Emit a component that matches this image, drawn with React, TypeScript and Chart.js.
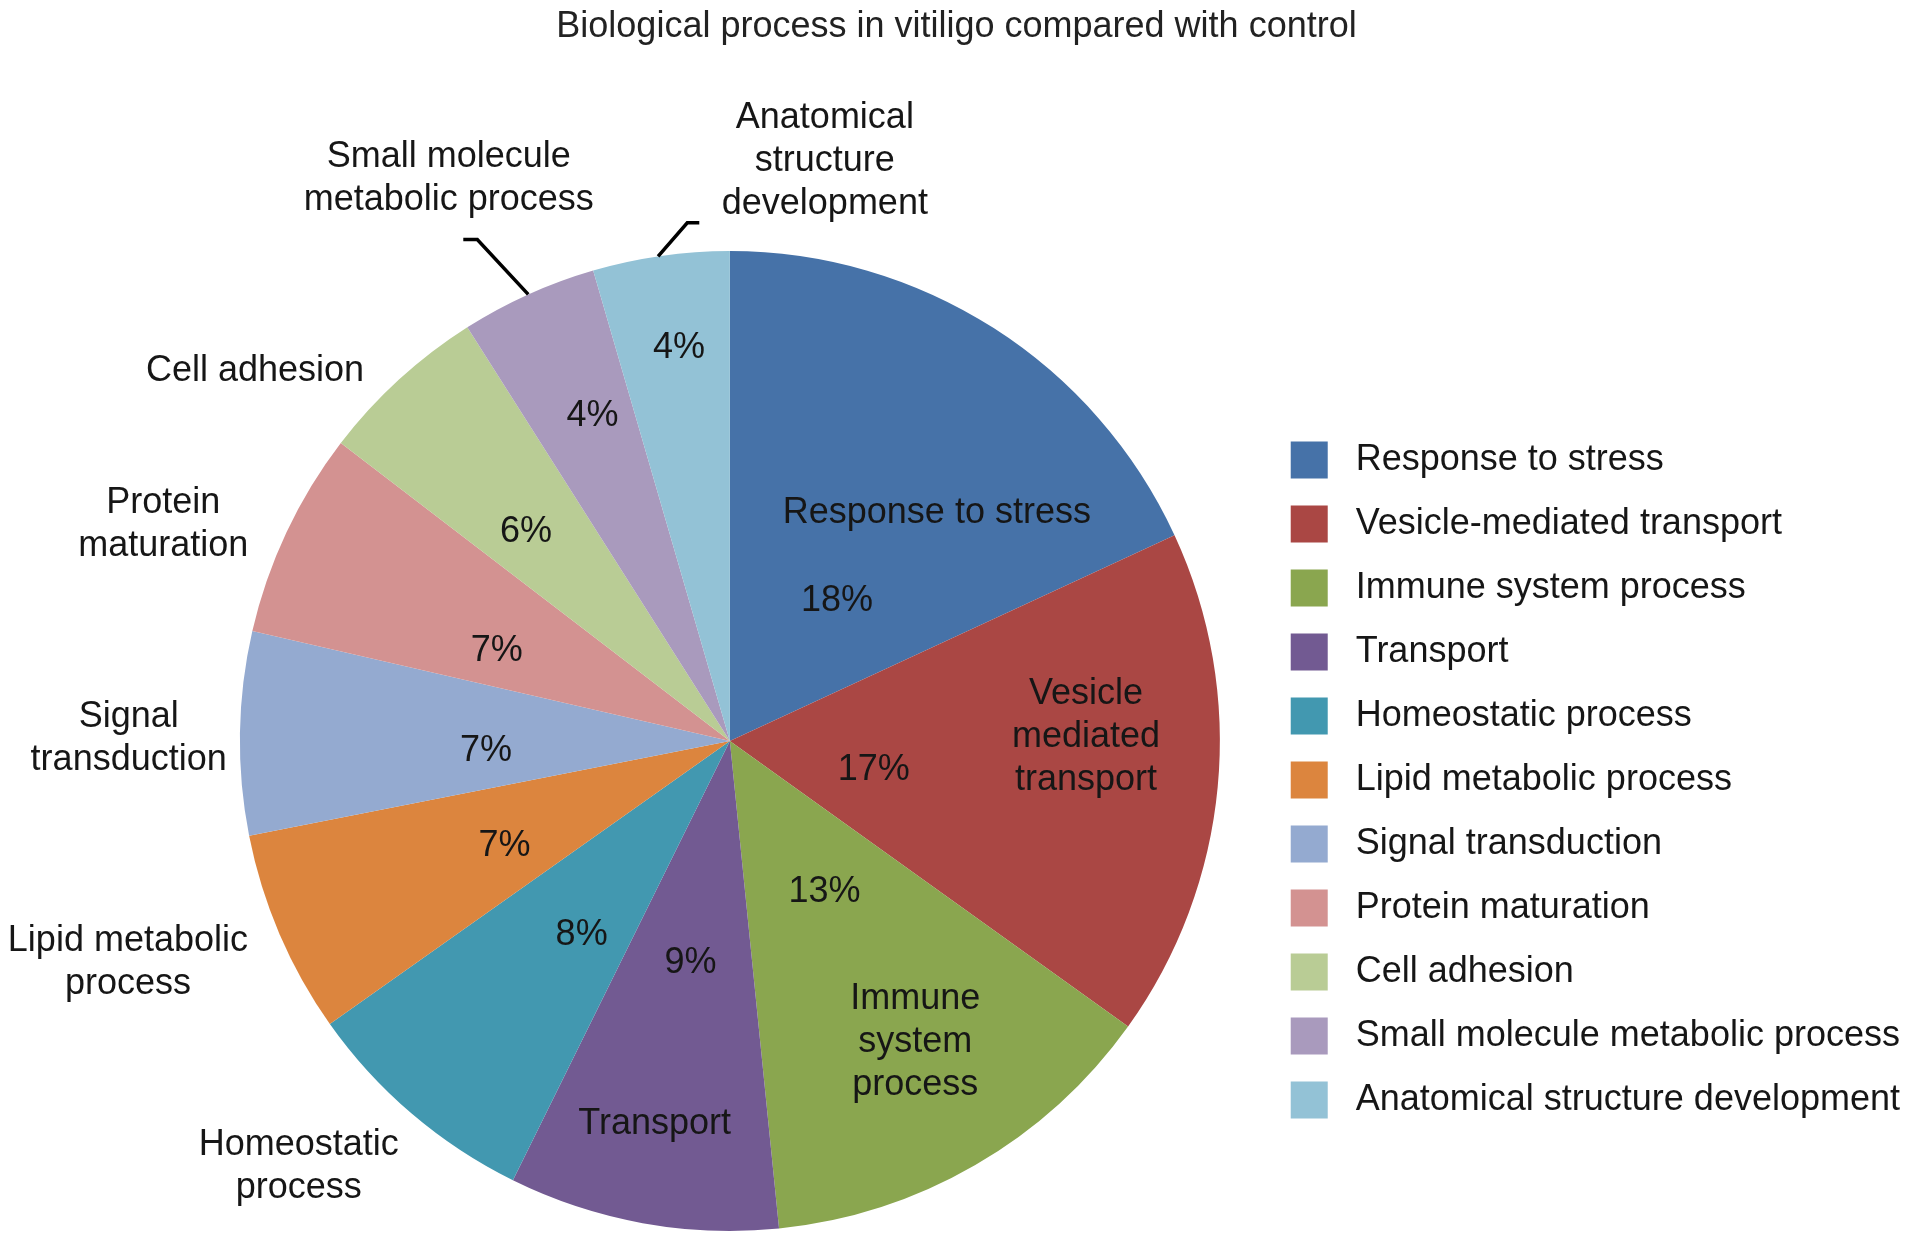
import React, { useEffect, useRef } from 'react';
import { Chart, registerables } from 'chart.js';

Chart.register(...registerables);

// ---- data ----
const categories = [
  'Response to stress',
  'Vesicle-mediated transport',
  'Immune system process',
  'Transport',
  'Homeostatic process',
  'Lipid metabolic process',
  'Signal transduction',
  'Protein maturation',
  'Cell adhesion',
  'Small molecule metabolic process',
  'Anatomical structure development',
];
const values = [18.1, 16.8, 13.5, 8.9, 7.9, 6.7, 6.7, 6.8, 5.6, 4.5, 4.5];
const percentLabels = [18, 17, 13, 9, 8, 7, 7, 7, 6, 4, 4];
const sliceTexts = [
  'Response to stress',
  'Vesicle\nmediated\ntransport',
  'Immune\nsystem\nprocess',
  'Transport',
  'Homeostatic\nprocess',
  'Lipid metabolic\nprocess',
  'Signal\ntransduction',
  'Protein\nmaturation',
  'Cell adhesion',
  'Small molecule\nmetabolic process',
  'Anatomical\nstructure\ndevelopment',
];
const titleText = 'Biological process in vitiligo compared with control';

// ---- styles ----
const colors = [
  '#4672A8', '#AA4744', '#8AA64F', '#725A92', '#4298B0', '#DC853E',
  '#94AAD0', '#D39291', '#B9CC95', '#A99ABD', '#93C2D6',
];
const FONT = "'Liberation Sans', Arial, Helvetica, sans-serif";
const TEXT_COLOR = '#161616';
const TEXT_DY = 4;

// label placement: [fraction along slice angle, fraction of radius]
const pctPlace = [
  [0.563, 0.366], [0.575, 0.298], [0.445, 0.357], [0.5, 0.452], [0.41, 0.492],
  [0.46, 0.504], [0.4, 0.498], [0.37, 0.513], [0.44, 0.602], [0.6, 0.727], [0.55, 0.817],
];
const textPlace = [
  [0.64, 0.635], [0.39, 0.727], [0.46, 0.714], [0.53, 0.788], [0.68, 1.231],
  [0.64, 1.306], [0.49, 1.227], [0.34, 1.241], [0.04, 1.234], [0.37, 1.29], [1.57, 1.208],
];
// leader lines: slice index, start frac on edge, elbow [frac, radius], horizontal tail
const leaders = [
  { index: 9, from: 0.5, elbow: [0.35, 1.146], tail: -14 },
  { index: 10, from: 0.48, elbow: [0.71, 1.061], tail: 12 },
];

const labelPlugin = {
  id: 'sliceLabels',
  afterDatasetsDraw(chart: any) {
    const ctx = chart.ctx as CanvasRenderingContext2D;
    const meta = chart.getDatasetMeta(0);
    ctx.save();
    ctx.fillStyle = TEXT_COLOR;
    ctx.textAlign = 'center';
    ctx.textBaseline = 'middle';
    ctx.font = `36px ${FONT}`;
    const lineH = 43;
    const geo = meta.data.map((arc: any) =>
      arc.getProps(['x', 'y', 'startAngle', 'endAngle', 'outerRadius'], true)
    );
    const at = (i: number, f: number, r: number) => {
      const g = geo[i];
      const a = g.startAngle + f * (g.endAngle - g.startAngle);
      return [g.x + Math.cos(a) * r * g.outerRadius, g.y + Math.sin(a) * r * g.outerRadius];
    };
    geo.forEach((_g: any, i: number) => {
      const [px, py] = at(i, pctPlace[i][0], pctPlace[i][1]);
      ctx.fillText(`${percentLabels[i]}%`, px, py + TEXT_DY);
      const [tx, ty] = at(i, textPlace[i][0], textPlace[i][1]);
      const lines = sliceTexts[i].split('\n');
      lines.forEach((ln, k) => {
        ctx.fillText(ln, tx, ty + TEXT_DY + (k - (lines.length - 1) / 2) * lineH);
      });
    });
    ctx.strokeStyle = '#000';
    ctx.lineWidth = 3.5;
    leaders.forEach((l) => {
      const [sx, sy] = at(l.index, l.from, 1);
      const [ex, ey] = at(l.index, l.elbow[0], l.elbow[1]);
      ctx.beginPath();
      ctx.moveTo(sx, sy);
      ctx.lineTo(ex, ey);
      ctx.lineTo(ex + l.tail, ey);
      ctx.stroke();
    });
    ctx.font = `36px ${FONT}`;
    ctx.fillStyle = '#222';
    ctx.fillText(titleText, chart.width / 2, 27);
    ctx.restore();
  },
};

export default function App() {
  const ref = useRef<HTMLCanvasElement>(null);
  useEffect(() => {
    if (!ref.current) return;
    const chart = new Chart(ref.current, {
      type: 'pie',
      data: {
        labels: categories,
        datasets: [
          {
            data: values,
            backgroundColor: colors,
            borderWidth: 0,
          },
        ],
      },
      options: {
        animation: false,
        responsive: true,
        maintainAspectRatio: false,
        layout: { padding: { top: 251, bottom: 15, left: 196, right: 3 } },
        plugins: {
          tooltip: { enabled: false },
          title: { display: false },
          legend: {
            display: true,
            position: 'right',
            align: 'center',
            title: { display: true, text: ' ', font: { size: 65, lineHeight: 1.2 }, padding: 0 },
            labels: {
              boxWidth: 37,
              boxHeight: 37,
              padding: 27,
              color: TEXT_COLOR,
              font: { size: 36, family: FONT },
              generateLabels: (chart: any) => {
                const items = Chart.overrides.pie.plugins.legend.labels.generateLabels(chart);
                return items.map((it: any) => ({ ...it, text: ' ' + it.text }));
              },
            },
          },
        },
      },
      plugins: [labelPlugin],
    });
    return () => chart.destroy();
  }, []);
  return (
    <div style={{ position: 'absolute', left: 0, top: 0, width: '1913px', height: '1246px', background: '#fff' }}>
      <canvas ref={ref} />
    </div>
  );
}
